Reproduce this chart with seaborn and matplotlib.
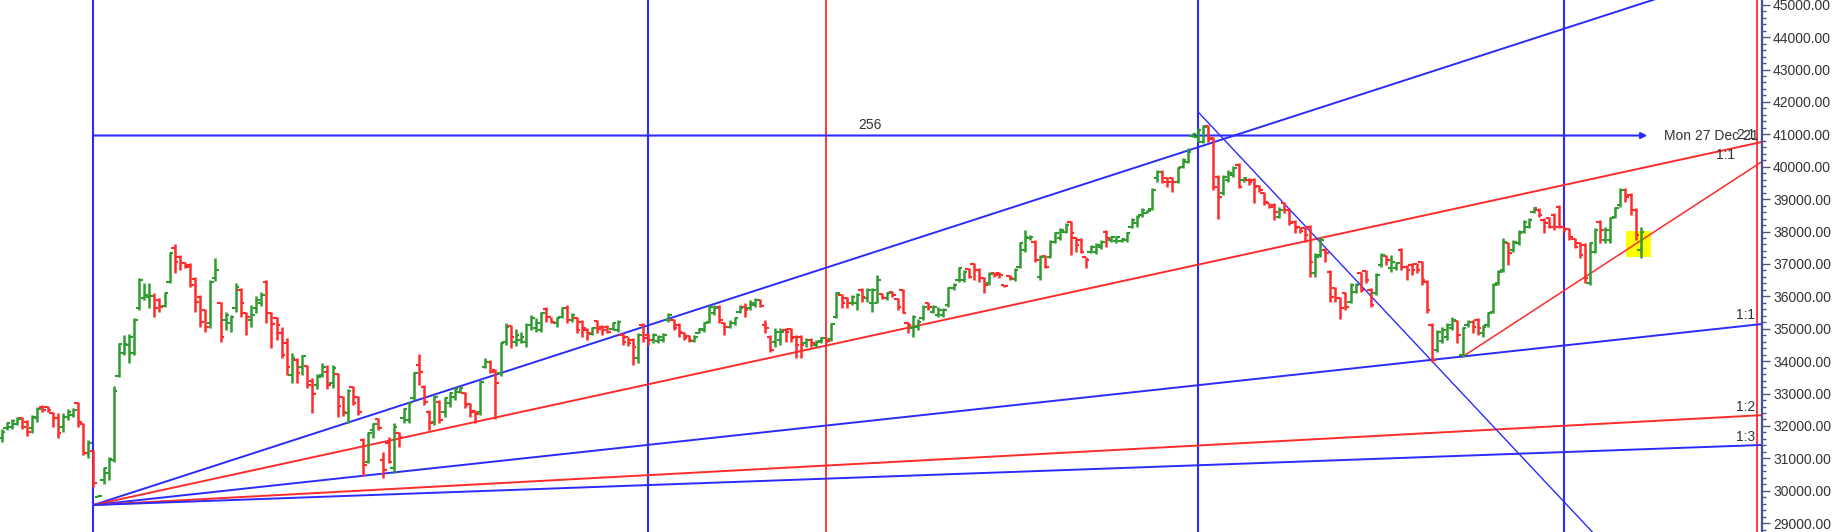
import numpy as np
import pandas as pd
import matplotlib
matplotlib.use("Agg")
import matplotlib.pyplot as plt
import seaborn as sns
from matplotlib.ticker import MultipleLocator, FormatStrFormatter
from matplotlib.patches import Rectangle

# ---------------- data (daily OHLC bars) ----------------
opens = [
    31616, 31925, 31976, 32059, 32233, 32131, 31925, 32233, 32594, 32573,
    32388, 32233, 31976, 32285, 32336, 32696, 32059, 31153, 31235, 29815,
    30330, 30536, 30947, 33540, 34240, 34497, 34240, 35629, 35938, 35989,
    36010, 35886, 35701, 36452, 37481, 37224, 37039, 36967, 36524, 35989,
    35578, 35166, 36555, 35784, 35269, 35166, 35629, 36195, 35475, 35269,
    35629, 35784, 36452,
    35495, 35320, 34857, 34548, 33571, 34034, 33828,
    33849, 33396, 33262, 33571, 33674, 33314, 33602, 32902, 32388, 33211,
    32902, 31564, 30895, 31873, 32202, 30947, 31461, 30690, 31770, 32233,
    32182, 32851, 33880, 33211, 32439, 32130, 32748, 32439, 32696, 32902,
    33056, 33005, 32676, 32470, 32439, 33828, 33982, 33725, 33622, 34600,
    35083, 34601, 34652, 34601, 35115, 35012, 34961, 35599, 35352, 35167,
    35372, 35630, 35270, 35321, 35218, 34961, 34837, 35249, 35064, 35043,
    34981, 34961, 34807, 34735, 34652, 34086, 35115, 34807, 34652, 34632,
    34652, 35270, 35270, 35115, 34879, 34776, 34632, 34879, 34961, 35218,
    35475, 35681, 35167, 35064, 35167, 35527, 35681, 35630, 35733, 35887,
    35115, 34755, 34601, 34652, 34961, 34981, 34755,
    34754, 34548, 34651,
    34497, 34631, 34703, 34672, 35371, 36040, 35937, 35783, 35783, 36195,
    35937, 35783, 35783, 36071, 35937, 36143, 35907, 36195, 35166, 35011,
    35063, 35320, 35804, 35526, 35423, 35423, 35731, 36246, 36503, 36503,
    36833, 36997, 36812, 36555, 36400, 36730, 36730, 36339, 36627, 36524,
    36915, 37429, 37790, 37687, 36606, 37244, 37224, 37687, 37790, 37995,
    38304, 37790, 37738, 37203,
    37377, 37377, 37531, 37994, 37737, 37716,
    37716, 37737, 38149, 38251, 38509, 38581, 38684, 39641, 39846, 39641,
    39641, 39538, 39980, 40155, 40947, 40927, 40772, 41256, 40875, 39692,
    39178, 39589, 39743, 40052, 39589, 39589, 39589, 39404, 39178, 38869,
    38817, 38457, 38869, 38663, 38303, 38128, 38097, 38149, 36708, 37274,
    37428, 36759, 36245, 35936, 36091, 35833, 36142, 36728, 36790, 36193,
    36091, 36965, 37243, 36862,
    36864, 37429, 36915, 36966, 36997, 37069,
    36452, 35114, 34343, 34631, 34754, 35011, 35248, 34188, 35114, 35217,
    35268, 34857, 35114, 35526, 36400, 36812, 37635, 37429, 37635, 37995,
    38150, 38613, 38664, 38356, 38407, 38510, 38767, 38129, 38067, 37759,
    37635, 37584, 36400, 37378, 38304, 37738, 37738, 38458, 38819, 39282,
    39127, 38664, 37429,
]
highs = [
    31894, 32131, 32203, 32264, 32264, 32182, 32336, 32594, 32645, 32614,
    32439, 32388, 32388, 32511, 32542, 32748, 32079, 31565, 31256, 29856,
    30742, 31030, 33242, 34549, 34806, 34837, 35320, 36555, 36401, 36401,
    36092, 35938, 36144, 37378, 37615, 37276, 37070, 37018, 36586, 36041,
    35598, 36504, 37173, 35835, 35526, 35423, 36401, 36247, 35526, 35732,
    36010, 36144, 36504,
    35526, 35351, 35042, 34703, 34260, 34085, 34188,
    33880, 33468, 33591, 33931, 33880, 33880, 33622, 32923, 33128, 33231,
    32923, 31616, 31822, 32099, 32233, 31204, 31667, 32079, 31822, 32542,
    32748, 33674, 34219, 33262, 32491, 32954, 32799, 32902, 33056, 33211,
    33231, 33056, 32696, 32491, 33416, 34085, 34034, 33746, 34600, 35166,
    35114, 34981, 34909, 35167, 35424, 35321, 35527, 35661, 35372, 35372,
    35681, 35733, 35475, 35372, 35270, 35012, 35064, 35270, 35115, 35115,
    35218, 35270, 34858, 34755, 34704, 34858, 35167, 34858, 34858, 34807,
    34858, 35496, 35290, 35167, 34909, 34807, 34807, 35012, 35218, 35733,
    35733, 35733, 35218, 35270, 35372, 35733, 35784, 35887, 35938, 35908,
    35270, 34807, 35012, 35012, 35012, 35012, 34807,
    34806, 34703, 34703,
    34651, 34754, 34754, 35166, 36143, 36071, 35989, 36040, 36092, 36246,
    36246, 36246, 36658, 36092, 36143, 36174, 35937, 36215, 35217, 35423,
    35289, 35731, 35834, 35731, 35680, 35629, 36298, 36400, 36915, 36812,
    36863, 37018, 36863, 36606, 36760, 36760, 36760, 36359, 36658, 36863,
    37687, 38047, 37892, 37738, 37275, 37275, 37738, 37995, 38098, 38253,
    38335, 37841, 37790, 37224,
    37582, 37634, 37737, 38046, 37860, 37860,
    37788, 37994, 38406, 38509, 38714, 38663, 39332, 39898, 39898, 39692,
    39692, 40001, 40258, 40567, 41030, 41184, 41287, 41287, 40927, 39743,
    39743, 39898, 40021, 40104, 39692, 39641, 39641, 39435, 39229, 38889,
    38869, 38766, 38920, 38714, 38354, 38149, 38149, 38200, 37325, 37840,
    37480, 36811, 36296, 35988, 36142, 36399, 36399, 36759, 36811, 36245,
    36708, 37325, 37274, 37274,
    37069, 37481, 36966, 37018, 37038, 37100,
    36503, 35165, 34960, 35063, 35165, 35371, 35268, 35063, 35268, 35268,
    35320, 35114, 35526, 36400, 36812, 37790, 37687, 37738, 38047, 38356,
    38407, 38767, 38716, 38407, 38458, 38561, 38819, 38150, 38098, 37790,
    37687, 37635, 37687, 38098, 38356, 38150, 38458, 38767, 39333, 39333,
    39179, 38716, 38150,
]
lows = [
    31513, 31873, 31894, 32017, 31894, 31688, 31770, 32131, 32439, 32439,
    31976, 31616, 31822, 32182, 32285, 31976, 31102, 30999, 30124, 29795,
    30206, 30330, 30896, 33520, 34189, 33932, 34189, 35578, 35886, 35629,
    35372, 35526, 35660, 36401, 36730, 36812, 36864, 36298, 35526, 35063,
    34909, 35012, 36483, 34600, 34960, 34909, 35526, 35372, 34806, 35063,
    35495, 35701, 35166,
    34394, 34651, 34085, 33571, 33334, 33314, 33571,
    33159, 32388, 33128, 33519, 33128, 33159, 32285, 32305, 32099, 32645,
    32336, 30453, 30844, 31616, 31873, 30381, 30844, 30535, 31338, 32079,
    32079, 32799, 33262, 32645, 31873, 32027, 32079, 32285, 32593, 32799,
    33005, 32542, 32285, 32079, 32336, 33777, 33622, 32202, 33540, 34497,
    34394, 34467, 34570, 34446, 34961, 34909, 34909, 35218, 35167, 35064,
    35321, 35167, 35218, 34858, 34755, 34652, 34807, 34858, 34807, 34858,
    34961, 34909, 34498, 34467, 33880, 33932, 34601, 34498, 34549, 34549,
    34601, 35218, 34961, 34755, 34652, 34601, 34601, 34858, 34909, 35167,
    35424, 35167, 34807, 35012, 35115, 35475, 35372, 35578, 35681, 35661,
    34858, 34292, 34446, 34498, 34601, 34601, 34086,
    34085, 34445, 34445,
    34445, 34569, 34548, 34631, 35320, 35629, 35629, 35731, 35577, 35834,
    35834, 35526, 35783, 35907, 35886, 35989, 35577, 35474, 34857, 34754,
    34960, 35269, 35577, 35474, 35371, 35371, 35680, 36195, 36452, 36452,
    36555, 36503, 36452, 36112, 36349, 36606, 36555, 36298, 36503, 36483,
    36863, 37378, 37738, 37069, 36503, 36863, 37172, 37635, 37738, 37944,
    37275, 37378, 37327, 36863,
    37325, 37305, 37449, 37531, 37685, 37654,
    37685, 37685, 38097, 38149, 38457, 38560, 38663, 39538, 39486, 39383,
    39229, 39486, 39949, 40124, 40927, 40772, 40721, 40772, 39280, 38375,
    39126, 39538, 39692, 39332, 39538, 39435, 38869, 39229, 38817, 38714,
    38354, 38406, 38560, 38200, 37963, 37943, 37685, 36605, 36605, 37222,
    37068, 35833, 35833, 35288, 35576, 35782, 36091, 36142, 36399, 35679,
    36039, 36914, 36965, 36759,
    36812, 36812, 36503, 36658, 36709, 36349,
    35474, 33982, 34291, 34548, 34651, 34960, 34548, 34137, 35063, 34857,
    34805, 34754, 35063, 35474, 36349, 36760, 36966, 37378, 37584, 37944,
    38098, 38561, 38458, 37944, 38098, 38047, 38098, 37995, 37738, 37481,
    37172, 36400, 36349, 37327, 37635, 37635, 37635, 38407, 38767, 38921,
    38510, 37738, 37172,
]
closes = [
    31822, 32100, 32151, 32203, 31956, 31822, 32285, 32511, 32491, 32491,
    32233, 31770, 32285, 32439, 32491, 32131, 31153, 31482, 30227, 29836,
    30690, 30968, 33088, 34528, 34528, 34755, 35269, 36504, 36041, 36010,
    35629, 35660, 36092, 37327, 37070, 37018, 36915, 36349, 35835, 35217,
    35063, 36452, 36812, 34755, 35423, 35372, 36298, 35784, 35372, 35423,
    35886, 36041, 35475,
    35145, 35114, 34188, 33828, 34085, 33622, 34157,
    33262, 32984, 33519, 33828, 33262, 33777, 32614, 32439, 33087, 32717,
    32439, 30793, 31770, 32058, 31924, 30638, 30895, 31976, 31667, 32511,
    32696, 33622, 33674, 32748, 32079, 32902, 32182, 32851, 33005, 33128,
    33159, 32645, 32439, 32367, 33365, 33982, 33674, 33314, 34548, 35063,
    34754, 34806, 34755, 35115, 35321, 35167, 35475, 35372, 35218, 35321,
    35630, 35270, 35424, 34961, 35012, 34858, 35012, 34981, 34961, 34909,
    35167, 35218, 34601, 34549, 34446, 34806, 34704, 34652, 34807, 34755,
    34807, 35424, 35012, 34909, 34704, 34652, 34755, 34981, 35167, 35681,
    35630, 35270, 35064, 35167, 35321, 35630, 35578, 35784, 35887, 35702,
    35012, 34343, 34909, 34909, 34909, 34704, 34498,
    34497, 34651, 34548,
    34600, 34723, 34631, 35145, 36092, 35783, 35783, 35989, 36040, 35989,
    36195, 36195, 36503, 35937, 36092, 36040, 35659, 35495, 35114, 35371,
    35217, 35680, 35680, 35680, 35577, 35577, 36246, 36349, 36863, 36760,
    36606, 36812, 36555, 36349, 36688, 36658, 36658, 36318, 36555, 36812,
    37635, 37841, 37841, 37121, 37203, 36894, 37687, 37944, 38047, 38201,
    37944, 37584, 37378, 37121,
    37531, 37582, 37685, 37788, 37840, 37819,
    37757, 37943, 38354, 38457, 38663, 38642, 39280, 39846, 39538, 39538,
    39538, 39949, 40207, 40464, 41009, 41133, 41236, 40844, 39383, 39075,
    39692, 39795, 39949, 39383, 39641, 39538, 39383, 39280, 38920, 38766,
    38612, 38663, 38663, 38251, 38097, 38025, 37891, 37068, 37222, 37737,
    37325, 35988, 35936, 35627, 35658, 36348, 36348, 36193, 36502, 35730,
    36657, 37274, 37120, 37068,
    37038, 36915, 36812, 36812, 36812, 36503,
    35577, 34034, 34908, 34960, 35114, 35269, 34805, 35011, 35217, 35063,
    35011, 35063, 35474, 36349, 36760, 37687, 37327, 37687, 37944, 38304,
    38356, 38716, 38510, 38253, 38150, 38150, 38150, 38067, 37841, 37532,
    37275, 36555, 37635, 38047, 38047, 38047, 38407, 38716, 39282, 39076,
    38664, 37893, 37995,
]

# Gann fan from the late-January low
fan_origin_bar = 18
fan_origin_price = 29560
fan_end_bar = 346
fan_end_prices = [46246, 40771, 35149, 32336, 31415]
fan_names = ["2x1", "1x1", "1x1b", "1x2", "1x3"]

# other drawn studies
trend_up_bars = [287, 345.8]          # rising line from the December low
trend_up_prices = [34137, 40155]
trend_down_bars = [235, 312.5]        # falling line from the October top
trend_down_prices = [41698, 28728]
hline_bars = [18, 323.3]              # time count line
hline_price = 40963
blue_time_bars = [18, 127, 235, 307]
red_time_bars = [162, 344.9]
highlight_bars = [319.1, 324.0]
highlight_prices = [37214, 38016]

ratio_labels = ["2:1", "1:1", "1:1", "1:2", "1:3"]
ratio_label_bars = [342.7, 338.6, 342.6, 342.6, 342.6]
ratio_label_prices = [40979, 40362, 35424, 32585, 31659]

tick_values = list(range(29000, 45001, 1000))

# ---------------- style ----------------
GREEN = "#2f9a2f"
RED = "#ff2b2b"
BLUE = "#2b2bff"
TEXT = "#333333"

sns.set_theme(style="white")
plt.rcParams["font.family"] = ["Liberation Sans", "DejaVu Sans"]

fig = plt.figure(figsize=(18.32, 5.32), dpi=100)
ax = fig.add_axes([0, 0, 1762 / 1832, 1])
ax.set_facecolor("white")

o = np.array(opens); h = np.array(highs); l = np.array(lows); c = np.array(closes)
idx = np.arange(len(c))
cols = np.where(c >= o, GREEN, RED)

# highlight box (under the bars)
ax.add_patch(Rectangle((highlight_bars[0], highlight_prices[0]),
                       highlight_bars[1] - highlight_bars[0],
                       highlight_prices[1] - highlight_prices[0],
                       facecolor="#ffff00", edgecolor="none", zorder=1))

# vertical time lines
for b in blue_time_bars:
    ax.axvline(b, color=BLUE, lw=1.5, zorder=2)
for b in red_time_bars:
    ax.axvline(b, color=RED, lw=1.3, zorder=2)

# Gann fan via seaborn
fan_rows = []
for name, p in zip(fan_names, fan_end_prices):
    fan_rows.append({"line": name, "bar": fan_origin_bar, "price": fan_origin_price})
    fan_rows.append({"line": name, "bar": fan_end_bar, "price": p})
fan_df = pd.DataFrame(fan_rows)
fan_pal = {"2x1": BLUE, "1x1": RED, "1x1b": BLUE, "1x2": RED, "1x3": BLUE}
sns.lineplot(data=fan_df, x="bar", y="price", hue="line", palette=fan_pal,
             legend=False, lw=1.4, ax=ax, zorder=2, estimator=None, sort=False)

tr_df = pd.DataFrame({"bar": trend_up_bars, "price": trend_up_prices})
sns.lineplot(data=tr_df, x="bar", y="price", color=RED, lw=1.1, ax=ax, zorder=2)
td_df = pd.DataFrame({"bar": trend_down_bars, "price": trend_down_prices})
sns.lineplot(data=td_df, x="bar", y="price", color=BLUE, lw=1.0, ax=ax, zorder=2)

# horizontal count line with arrow
ax.annotate("", xy=(hline_bars[1], hline_price), xytext=(hline_bars[0], hline_price),
            arrowprops=dict(arrowstyle="-|>", color=BLUE, lw=1.5, mutation_scale=9,
                            shrinkA=0, shrinkB=0), zorder=2)
ax.text(170.6, hline_price + 330, "256", color=TEXT, fontsize=10, ha="center", va="center")
ax.text(326.6, hline_price, "Mon 27 Dec 21", color=TEXT, fontsize=10, ha="left", va="center")
for t, xb, yp in zip(ratio_labels, ratio_label_bars, ratio_label_prices):
    ax.text(xb, yp, t, color=TEXT, fontsize=10, ha="center", va="center")

# OHLC bars
ax.vlines(idx, l, h, colors=cols, lw=1.8, zorder=3)
ax.hlines(o, idx - 0.7, idx, colors=cols, lw=1.5, zorder=3)
ax.hlines(c, idx, idx + 0.7, colors=cols, lw=1.5, zorder=3)

ax.set_xlim(-0.334, 345.83)
ax.set_ylim(28728, 45145)
ax.set_xlabel(""); ax.set_ylabel("")
ax.set_xticks([])

ax.yaxis.tick_right()
ax.set_yticks(tick_values)
ax.yaxis.set_major_formatter(FormatStrFormatter("%.2f"))
ax.yaxis.set_minor_locator(MultipleLocator(200))
ax.tick_params(axis="y", which="major", direction="out", length=6, width=1,
               color="#555577", labelcolor=TEXT, labelsize=10, pad=2, right=True, left=False)
ax.tick_params(axis="y", which="minor", direction="out", length=3, width=1,
               color="#555577", right=True, left=False)
for s in ["left", "top", "bottom"]:
    ax.spines[s].set_visible(False)
ax.spines["right"].set_visible(True)
ax.spines["right"].set_color("#4b4ba8")
ax.spines["right"].set_linewidth(1.6)
ax.grid(False)

fig.savefig("out.png", dpi=100, facecolor="white")
